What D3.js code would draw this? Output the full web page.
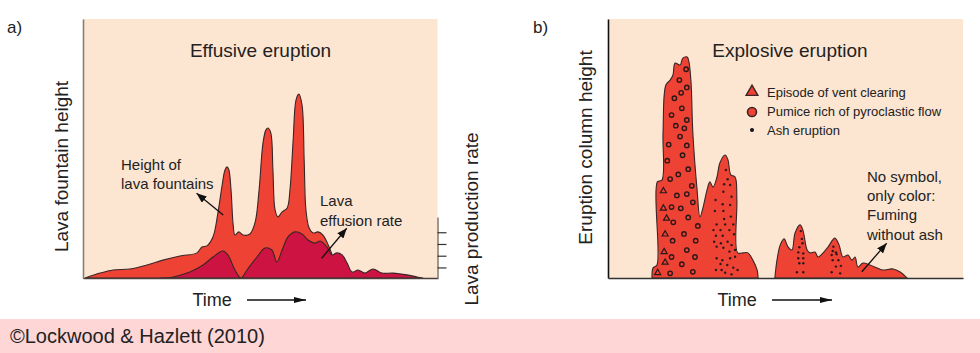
<!DOCTYPE html>
<html>
<head>
<meta charset="utf-8">
<script src="https://cdn.jsdelivr.net/npm/d3@7"></script>
<style>
body { margin: 0; background: #fff; }
svg text { font-family: "Liberation Sans", Arial, sans-serif; fill: #222; }
</style>
</head>
<body>
<div id="chart"></div>
<script>
// a) effusive eruption: [time, height] in % of the plot
const fountainHeight = [[0.6,0],[4.8,1.9],[8.5,3.1],[13.2,3.5],[18,5],[22.5,6.9],[27.3,8.5],[32.1,9.7],[33.5,12],[34.9,12.4],[36.6,15.8],
  [38,25.1],[39.2,35.9],[40,41.7],[40.6,42.9],[41.1,41.7],[41.7,34],[42.3,20.5],[42.8,16.6],[43.9,17.8],[45.1,16.6],[47,17],
  [48.5,21.6],[49.6,34],[50.7,52.1],[51.5,57.1],[52.1,57.9],[52.9,56],[53.5,41.7],[54.1,26.3],[54.9,23.6],[56.1,25.5],[57.5,27],
  [58.3,34],[59.2,53.3],[60,68.7],[60.8,71],[61.7,66.8],[62.3,45.6],[62.8,26.3],[63.7,19.3],[64.8,17.4],[66.2,17.8],[67.6,16.6],
  [68.7,13.9],[69.9,10],[70.7,6.2],[71.3,0]];
const effusionRate = [[21.7,0],[25.4,0.4],[30.1,2.3],[33.8,5],[36.6,8.1],[39.4,10.4],[40.8,8.9],[42.8,3.1],[44.5,0],[46.2,3.1],
  [49,8.1],[51.3,11.6],[53.2,10.8],[54.6,6.2],[56.1,10.8],[57.7,15.8],[59.7,17.8],[61.7,17],[63.4,14.7],[65.4,13.5],[66.8,14.3],
  [68.7,12],[70.1,8.9],[71.5,9.7],[73,8.9],[74.4,5.8],[75.8,2.3],[77.5,3.1],[79.4,1.9],[81.7,3.5],[84.2,1.9],[87.3,1.9],
  [91.3,1.2],[94.1,0.4],[95.8,0]];
const productionTicks = [1, 2, 3, 4];

// b) explosive eruption: [time, column height]
const columnPhase1 = [[12.4,0],[12.7,3.9],[13.8,5],[13.9,37.1],[15.2,37.8],[15.5,56],[16.3,74.5],[17.5,76.4],[18.3,78.4],[18.9,83],
  [20.3,82.2],[21.1,84.9],[22.3,85.3],[22.8,83.4],[23.4,75.3],[23.9,56],[25.1,34],[25.9,23.6],[26.8,27.4],[27.9,34],[28.7,37.1],
  [29.6,35.1],[30.7,39],[31.5,44.4],[33,47.5],[33.8,45.6],[34.6,39.8],[35.8,39],[36.3,30.1],[36.5,9.7],[38,9.7],[39.4,9.7],
  [40.8,6.9],[42,3.1],[42.3,0]];
const columnPhase2 = [[47,0],[47.6,6.9],[48.5,12.7],[49.6,15.1],[50.7,12],[51.8,10.8],[52.7,17.4],[54.1,20.5],[54.9,18.5],[56.1,10.8],
  [56.9,9.7],[58.3,10],[59.2,8.1],[60.6,9.7],[62,12],[63.9,15.4],[65.1,12.7],[66.2,8.1],[67.6,8.9],[68.7,6.9],[69.6,8.1],
  [70.4,4.2],[71.8,5.8],[73.8,5],[75.8,3.9],[77.5,3.1],[80.3,3.5],[82.3,2.3],[84.2,0]];
const ventClearing = [[15.6,33.6],[15.6,26.9],[16.5,23],[16.1,16.9],[15.8,10.1],[16.1,6],[14,2]];
const pumiceFlow = [[22,80.6],[20.1,76.4],[22.2,73.6],[20.6,71.5],[18.7,69.4],[20.8,65.5],[17.9,62.9],[22.2,61],[19.1,58.8],
  [21.5,57.8],[20.3,54.6],[17.1,51.5],[22.2,51.2],[21,47.4],[16.7,45.3],[22.6,42],[19.8,40],[17.5,38.2],[23.6,35.6],[19.4,31.9],
  [22.2,32.4],[23.9,29.2],[17.9,27.4],[20.5,26.9],[22.6,23.4],[18.4,21.5],[25.3,20.1],[21.4,17],[18.2,14.4],[24.7,14.4],
  [22.2,10.8],[17.9,8.1],[24.5,8.1],[20.8,5.3],[17.5,1.8],[23.9,2.4]];
const ashFall = [[33.2,41.7],[33.7,38.1],[32.7,36.2],[34.4,35.9],[32.5,33.3],[34.8,31.4],[30.3,30.1],[32.3,28.5],[34.4,28.2],
  [30.1,25.9],[32.5,25.9],[34.6,23.7],[32.7,22.8],[30.6,20.7],[33,20.7],[35.3,20.7],[29.7,18.5],[31.7,18.5],[34.2,18.5],
  [35.5,16.9],[30.4,16.3],[32.3,16.3],[29.9,14],[31.8,13.4],[33.7,14],[34.8,12.7],[30.6,12.1],[32.5,11.7],[34.2,10.2],
  [35.8,10.8],[30.6,7.6],[32.2,6.9],[34.4,7.6],[35.8,8.2],[31.7,5.4],[33.6,5],[35.3,4],[30.4,3.1],[32,3.1],[36.5,3.1],
  [33,2],[34.8,1.4],
  [54.3,18.1],[54.6,15.1],[54.8,13.4],[53.9,11.9],[53.6,9.9],[55,9.5],[53.6,7.6],[55,7.6],[53.9,5.7],[55,5.7],[53.2,2.2],[55,2.2],
  [63.5,12.1],[63.3,10.4],[64.2,9.9],[63,8.9],[64.4,9.2],[63.3,6.9],[64.9,6.9],[64.2,4.4],[65.6,4.7],[63,2.2],[65.4,1.8]];
const legendItems = ['Episode of vent clearing', 'Pumice rich of pyroclastic flow', 'Ash eruption'];

const W = 980, H = 353;
const beige = '#fce5d1', red = '#ee4234', crimson = '#cc1342', ink = '#3a2626';

const svg = d3.select('#chart').append('svg').attr('width', W).attr('height', H);

const y = d3.scaleLinear().domain([0, 100]).range([278, 19]);
const xa = d3.scaleLinear().domain([0, 100]).range([83, 438]);
const xb = d3.scaleLinear().domain([0, 100]).range([608, 963]);
const rate = d3.scaleLinear().domain([0.1, 5.3]).range([278, 217]);

const defs = svg.append('defs');
function marker(id, len, wid) {
    defs.append('marker')
        .attr('id', id)
        .attr('markerUnits', 'userSpaceOnUse')
        .attr('viewBox', `0 0 ${len} ${wid}`)
        .attr('refX', len).attr('refY', wid / 2)
        .attr('markerWidth', len).attr('markerHeight', wid)
        .attr('orient', 'auto')
        .append('path')
        .attr('d', `M0,0L${len},${wid / 2}L0,${wid}Z`)
        .attr('fill', '#111');
}
marker('head', 10, 8);
marker('timeHead', 12, 6);

function areaFor(x) {
    return d3.area()
        .x(d => x(d[0]))
        .y0(y(0))
        .y1(d => y(d[1]))
        .curve(d3.curveCatmullRom.alpha(0.5));
}

// ---------- panel a ----------
const ga = svg.append('g');
ga.append('rect')
    .attr('x', xa(0)).attr('y', y(100))
    .attr('width', xa(100) - xa(0) - 0.5).attr('height', y(0) - y(100))
    .attr('fill', beige);

ga.append('path').datum(fountainHeight)
    .attr('d', areaFor(xa))
    .attr('fill', red).attr('stroke', ink).attr('stroke-width', 1.1);
ga.append('path').datum(effusionRate)
    .attr('d', areaFor(xa))
    .attr('fill', crimson).attr('stroke', ink).attr('stroke-width', 1.1);

ga.append('g')
    .attr('transform', `translate(${xa(0)},0)`)
    .call(d3.axisLeft(y).ticks(0).tickSizeOuter(0))
    .select('.domain').attr('stroke', '#8a7d76').attr('stroke-width', 1.6);
ga.append('g')
    .attr('transform', `translate(0,${y(0)})`)
    .call(d3.axisBottom(xa).ticks(0).tickSizeOuter(0))
    .select('.domain').attr('stroke', '#4a3e3a').attr('stroke-width', 1.6);

// lava production rate axis on the right
const rAxis = ga.append('g')
    .attr('transform', `translate(${xa(100) - 0.5},0)`)
    .call(d3.axisRight(rate).tickValues(productionTicks).tickSize(9).tickSizeOuter(0).tickFormat(''));
rAxis.select('.domain').attr('stroke', '#8a7d76').attr('stroke-width', 1.6);
rAxis.selectAll('.tick line').attr('stroke', '#333').attr('stroke-width', 1.2);

ga.append('text').attr('x', 7).attr('y', 33).attr('font-size', 17).text('a)');
ga.append('text').attr('x', (xa(0) + xa(100)) / 2 + 0).attr('y', 57)
    .attr('text-anchor', 'middle').attr('font-size', 19).text('Effusive eruption');
ga.append('text')
    .attr('transform', `translate(68,${(y(0) + y(100)) / 2 + 18}) rotate(-90)`)
    .attr('text-anchor', 'middle').attr('font-size', 19).text('Lava fountain height');
ga.append('text')
    .attr('transform', `translate(478,219) rotate(-90)`)
    .attr('text-anchor', 'middle').attr('font-size', 19).text('Lava production rate');

ga.append('text').attr('x', 121).attr('y', 170).attr('font-size', 15).text('Height of');
ga.append('text').attr('x', 121).attr('y', 189).attr('font-size', 15).text('lava fountains');
ga.append('text').attr('x', 320).attr('y', 206).attr('font-size', 15).text('Lava');
ga.append('text').attr('x', 320).attr('y', 226).attr('font-size', 15).text('effusion rate');

ga.append('line')
    .attr('x1', xa(39.5)).attr('y1', y(24.3)).attr('x2', xa(32)).attr('y2', y(32.7))
    .attr('stroke', '#111').attr('stroke-width', 1.3).attr('marker-end', 'url(#head)');
ga.append('line')
    .attr('x1', xa(67.2)).attr('y1', y(7.6)).attr('x2', xa(74.3)).attr('y2', y(19.2))
    .attr('stroke', '#111').attr('stroke-width', 1.3).attr('marker-end', 'url(#head)');

ga.append('text').attr('x', 192.5).attr('y', 306).attr('font-size', 18).text('Time');
ga.append('line').attr('x1', 247).attr('y1', 300).attr('x2', 306).attr('y2', 300)
    .attr('stroke', '#111').attr('stroke-width', 1.3).attr('marker-end', 'url(#timeHead)');

// ---------- panel b ----------
const gb = svg.append('g');
gb.append('rect')
    .attr('x', xb(0)).attr('y', y(100))
    .attr('width', xb(100) - xb(0)).attr('height', y(0) - y(100))
    .attr('fill', beige);

[columnPhase1, columnPhase2].forEach(phase => {
    gb.append('path').datum(phase)
        .attr('d', areaFor(xb))
        .attr('fill', red).attr('stroke', ink).attr('stroke-width', 1.1);
});

const tri = d3.symbol().type(d3.symbolTriangle);
gb.selectAll('.vent').data(ventClearing).enter().append('path')
    .attr('class', 'vent')
    .attr('transform', d => `translate(${xb(d[0])},${y(d[1])})`)
    .attr('d', tri.size(16)())
    .attr('fill', 'none').attr('stroke', '#2a1818').attr('stroke-width', 1.2);
gb.selectAll('.pumice').data(pumiceFlow).enter().append('circle')
    .attr('class', 'pumice')
    .attr('cx', d => xb(d[0])).attr('cy', d => y(d[1])).attr('r', 2.2)
    .attr('fill', 'none').attr('stroke', '#2a1818').attr('stroke-width', 1.4);
gb.selectAll('.ash').data(ashFall).enter().append('circle')
    .attr('class', 'ash')
    .attr('cx', d => xb(d[0])).attr('cy', d => y(d[1])).attr('r', 1.2)
    .attr('fill', '#2a1a1a');

gb.append('g')
    .attr('transform', `translate(${xb(0)},0)`)
    .call(d3.axisLeft(y).ticks(0).tickSizeOuter(0))
    .select('.domain').attr('stroke', '#111').attr('stroke-width', 1.6);
gb.append('g')
    .attr('transform', `translate(0,${y(0)})`)
    .call(d3.axisBottom(xb).ticks(0).tickSizeOuter(0))
    .select('.domain').attr('stroke', '#333').attr('stroke-width', 1.6);

gb.append('text').attr('x', 533).attr('y', 33).attr('font-size', 17).text('b)');
gb.append('text').attr('x', 790).attr('y', 57)
    .attr('text-anchor', 'middle').attr('font-size', 19).text('Explosive eruption');
gb.append('text')
    .attr('transform', `translate(592,147.5) rotate(-90)`)
    .attr('text-anchor', 'middle').attr('font-size', 19).text('Eruption column height');

// legend
const legend = gb.append('g').attr('transform', 'translate(752,0)');
legend.append('path').attr('transform', 'translate(0,92)')
    .attr('d', tri.size(60)()).attr('fill', red).attr('stroke', ink).attr('stroke-width', 1.4);
legend.append('circle').attr('cx', 0).attr('cy', 112).attr('r', 4.5)
    .attr('fill', red).attr('stroke', ink).attr('stroke-width', 1.6);
legend.append('circle').attr('cx', 0).attr('cy', 130).attr('r', 2).attr('fill', '#111');
legend.selectAll('.lbl').data(legendItems).enter().append('text')
    .attr('class', 'lbl')
    .attr('x', 15).attr('y', (d, i) => 96.5 + i * 19)
    .attr('font-size', 13).text(d => d);

['No symbol,', 'only color:', 'Fuming', 'without ash'].forEach((t, i) => {
    gb.append('text').attr('x', 867).attr('y', 182 + i * 19.2).attr('font-size', 15).text(t);
});
gb.append('line')
    .attr('x1', xb(71.5)).attr('y1', y(2.4)).attr('x2', xb(78.5)).attr('y2', y(13.4))
    .attr('stroke', '#111').attr('stroke-width', 1.3).attr('marker-end', 'url(#head)');

gb.append('text').attr('x', 717.5).attr('y', 306).attr('font-size', 18).text('Time');
gb.append('line').attr('x1', 772).attr('y1', 300).attr('x2', 832).attr('y2', 300)
    .attr('stroke', '#111').attr('stroke-width', 1.3).attr('marker-end', 'url(#timeHead)');

// caption band
svg.append('rect').attr('x', 0).attr('y', 319).attr('width', W).attr('height', H - 319).attr('fill', '#ffd6d6');
svg.append('text').attr('x', 10).attr('y', 343).attr('font-size', 20).attr('fill', '#111')
    .text('©Lockwood & Hazlett (2010)');
</script>
</body>
</html>
